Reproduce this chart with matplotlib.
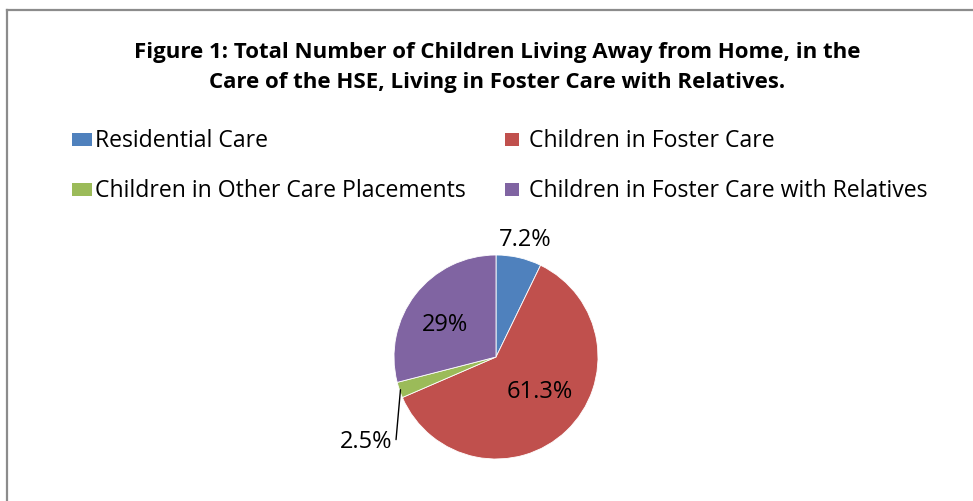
import matplotlib.pyplot as plt
from matplotlib.patches import Rectangle
import numpy as np

# data
categories = ["Residential Care", "Children in Foster Care",
              "Children in Other Care Placements", "Children in Foster Care with Relatives"]
shares = [7.2, 61.3, 2.5, 29.0]
labels = ["7.2%", "61.3%", "2.5%", "29%"]
colors = ["#4F81BD", "#C0504D", "#9BBB59", "#8064A2"]

title = ("Figure 1: Total Number of Children Living Away from Home, in the\n"
         "Care of the HSE, Living in Foster Care with Relatives.")

W, H = 973, 501
plt.rcParams["font.family"] = ["Open Sans", "DejaVu Sans"]

fig = plt.figure(figsize=(W / 100, H / 100), dpi=100)

def px(x, y):
    # pixel coords (from top-left) to figure fraction
    return x / W, 1 - y / H

# chart border (top and left visible)
fig.add_artist(plt.Line2D([7 / W, 1.0], [1 - 10 / H] * 2, color="#8c8c8c", lw=1.6))
fig.add_artist(plt.Line2D([7 / W] * 2, [0.0, 1 - 10 / H], color="#8c8c8c", lw=1.6))

# title
lines = title.split("\n")
fig.text(*px(497, 58), lines[0], ha="center", va="baseline", fontsize=16, fontweight="bold")
fig.text(*px(497, 88), lines[1], ha="center", va="baseline", fontsize=16, fontweight="bold")

# legend (2 x 2, row-wise)
key_x = [72, 505]
text_x = [95, 529]
rows_y = [147, 197]
for i, (cat, col) in enumerate(zip(categories, colors)):
    r, c = divmod(i, 2)
    kw = 20 if c == 0 else 14
    x0, y0 = px(key_x[c], rows_y[r] - 1)
    fig.add_artist(Rectangle((x0, y0), kw / W, 13 / H, transform=fig.transFigure,
                             facecolor=col, edgecolor="none"))
    fig.text(*px(text_x[c], rows_y[r]), cat, ha="left", va="baseline", fontsize=16.6)

# pie
cx, cy, rad = 496, 357, 102
ax = fig.add_axes([(cx - rad) / W, (H - cy - rad) / H, 2 * rad / W, 2 * rad / H])
wedges, _ = ax.pie(shares, colors=colors, startangle=90, counterclock=False,
                   radius=1, wedgeprops=dict(edgecolor="white", linewidth=0.6))
ax.set_xlim(-1, 1)
ax.set_ylim(-1, 1)
ax.set_aspect("equal")
ax.axis("off")

# label placement: (radius, angle offset from wedge middle)
place = [(1.18, -1), (0.55, 8), None, (0.59, 6)]
for w, lab, p in zip(wedges, labels, place):
    mid = np.deg2rad((w.theta1 + w.theta2) / 2)
    if p is None:
        ex, ey = np.cos(mid) * 0.99, np.sin(mid) * 0.99
        ax.annotate("", xy=(ex, ey), xytext=(-0.98, -0.81),
                    arrowprops=dict(arrowstyle="-", color="black", lw=1, shrinkA=0, shrinkB=0))
        ax.text(-1.02, -0.83, lab, ha="right", va="center", fontsize=17, clip_on=False)
        continue
    r, off = p
    a = mid + np.deg2rad(off)
    ax.text(r * np.cos(a), r * np.sin(a), lab, ha="center", va="center", fontsize=17,
            clip_on=False)

fig.savefig("out.png", dpi=100)
